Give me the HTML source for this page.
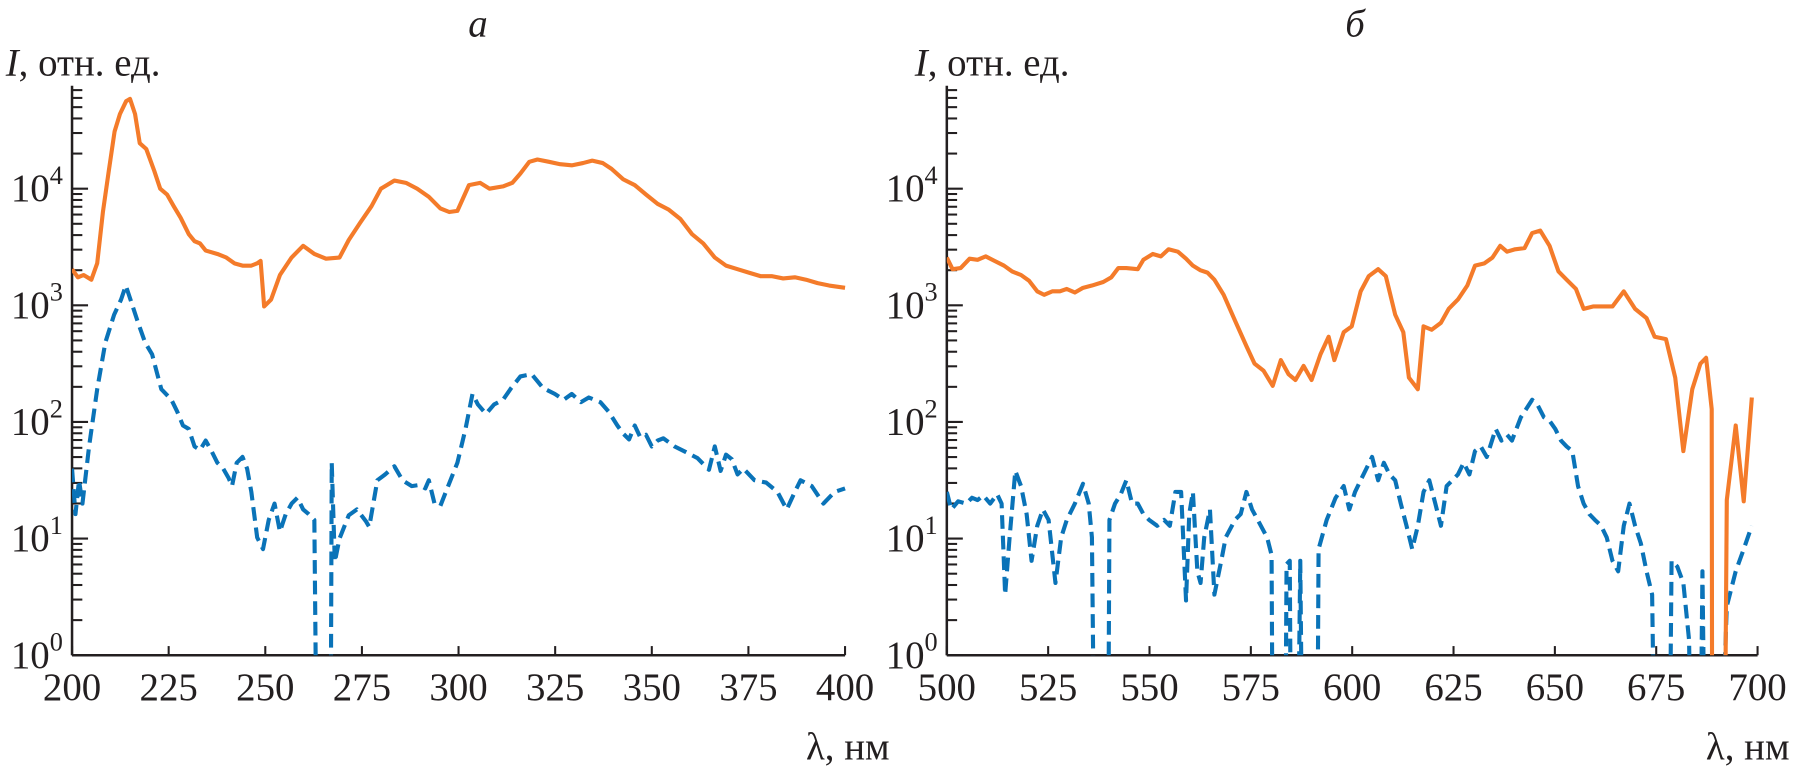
<!DOCTYPE html>
<html><head><meta charset="utf-8">
<style>
html,body{margin:0;padding:0;background:#fff;}
svg, svg text{font-family:"Liberation Serif","DejaVu Serif",serif;}
svg{display:block;}
</style></head>
<body>
<svg id="chart" width="1793" height="771" viewBox="0 0 1793 771" xmlns="http://www.w3.org/2000/svg"><g id="root" transform="scale(1.1435)" font-family="Liberation Serif, DejaVu Serif, serif"></g></svg>
<script>
// ---- Data (λ in nm, intensity given as log10(I); -1 means zero / below axis) ----
const lamA_orange = [200,201.5,203,205,206.5,208,209.5,211,212.4,214,215,216.3,217.5,219.2,221.3,222.8,224.6,226.3,228.1,230.2,231.7,233.1,234.6,237.6,239.9,242,244.1,246.4,247.9,248.8,249.7,251.5,253.8,256.8,259.8,262.7,265.7,269.2,271.6,274.6,277.5,279.9,283.4,286.4,289.3,292.3,295.3,297.6,299.7,302.7,305.6,308,311.5,313.9,316,318.3,320.4,323.4,326.3,329.3,332.2,334.6,337.3,339.6,342.6,345.6,348.5,351.5,354.4,357.4,360.4,363.3,366.3,369.2,372.2,375.1,378.1,381,384,387,389.9,392.9,395.9,400];
const logA_orange = [3.31,3.24,3.26,3.22,3.36,3.80,4.15,4.49,4.64,4.75,4.77,4.64,4.39,4.34,4.15,4.0,3.95,3.85,3.75,3.61,3.55,3.53,3.47,3.44,3.41,3.36,3.34,3.34,3.36,3.38,2.99,3.05,3.26,3.41,3.51,3.44,3.40,3.41,3.56,3.71,3.85,4.0,4.07,4.05,4.0,3.93,3.83,3.80,3.81,4.03,4.05,4.0,4.02,4.05,4.13,4.23,4.25,4.23,4.21,4.20,4.22,4.24,4.22,4.17,4.08,4.03,3.95,3.87,3.82,3.74,3.61,3.53,3.41,3.34,3.31,3.28,3.25,3.25,3.23,3.24,3.22,3.19,3.17,3.15];
const lamA_blue = [200,200.9,201.8,202.7,204.4,206.5,208.6,210.9,212.7,213.9,215.4,216.9,218.9,220.7,221.9,223.1,224.3,225.7,227.2,228.7,230.2,231.7,233.1,234.6,236.1,237.6,239.1,240.5,241.4,242.6,244.1,245.3,246.4,247.9,249.4,250.9,252.4,253.8,255.3,256.8,258.3,259.8,261.2,262.7,263.3,266.9,267.2,268.0,269.2,271.6,273.7,276,276.9,279,281,283.4,285.5,287.9,289.9,291.4,292.3,293.8,295.3,297.3,299.7,301.8,303.6,305,307.1,309.2,311.5,313.6,316,318.9,321.9,324.9,327.2,329.3,331.7,333.7,336.7,338.8,341.1,342.6,344.1,345.6,347,348.5,350,351.5,353,355.9,358.9,361.8,364.8,366.3,367.8,369.2,370.7,372.2,373.7,376.6,379.6,382.5,384.9,387,388.5,391.4,394.4,397.3,400];
const logA_blue = [1.60,1.21,1.50,1.30,1.79,2.28,2.68,2.92,3.05,3.17,3.02,2.87,2.68,2.58,2.43,2.28,2.24,2.19,2.09,1.97,1.94,1.79,1.76,1.84,1.75,1.65,1.60,1.52,1.45,1.65,1.70,1.60,1.40,1.01,0.91,1.16,1.30,1.06,1.21,1.30,1.35,1.25,1.21,1.16,-1,-1,1.65,0.80,1.0,1.20,1.25,1.15,1.10,1.50,1.55,1.62,1.50,1.45,1.46,1.43,1.50,1.30,1.28,1.45,1.65,1.94,2.24,2.15,2.07,2.15,2.19,2.29,2.39,2.41,2.29,2.24,2.19,2.24,2.17,2.21,2.17,2.09,1.97,1.90,1.85,1.97,1.87,1.89,1.79,1.84,1.86,1.79,1.74,1.69,1.59,1.79,1.58,1.72,1.68,1.55,1.60,1.50,1.48,1.40,1.25,1.40,1.50,1.45,1.30,1.40,1.43];
const lamB_orange = [500,501.4,503.4,505.6,507.6,509.6,511.8,514.1,516.1,518.3,520.3,522.3,524,526,527.9,529.6,531.6,533.6,535.8,538.6,540.6,542.3,544.3,547.1,548.5,550.8,552.8,554.7,557,559,560.7,562.6,564.3,566,568.3,571.1,573.9,575.9,578.1,580.4,582.4,584.3,586,588,590,592.2,594.2,595.6,597.9,599.9,602.1,604.1,606.4,608.3,610.6,612.6,614,616.2,617.6,619.6,621.9,623.8,626.1,628.4,630.3,632.6,634.6,636.5,638.2,640.2,642.5,644.4,646.4,648.7,650.9,652.9,655.2,657.1,659.4,661.4,664.2,667,669.8,672.6,674.6,677.4,679.7,681.7,683.9,685.9,687.3,688.7,688.8,691.9,692.4,694.6,696.6,698.6];
const logB_orange = [3.41,3.31,3.32,3.40,3.39,3.42,3.38,3.34,3.29,3.26,3.21,3.12,3.09,3.12,3.12,3.14,3.11,3.15,3.17,3.20,3.24,3.32,3.32,3.31,3.39,3.44,3.42,3.48,3.46,3.40,3.34,3.30,3.28,3.22,3.09,2.87,2.65,2.50,2.44,2.31,2.53,2.41,2.36,2.48,2.36,2.58,2.73,2.53,2.77,2.82,3.12,3.25,3.31,3.25,2.92,2.77,2.38,2.28,2.82,2.79,2.85,2.97,3.05,3.17,3.34,3.36,3.41,3.51,3.46,3.48,3.49,3.62,3.64,3.51,3.29,3.22,3.14,2.97,2.99,2.99,2.99,3.12,2.97,2.89,2.73,2.71,2.38,1.75,2.28,2.50,2.55,2.11,-1,-1,1.33,1.97,1.32,2.21];
const lamB_blue = [500,501.1,502.8,504.8,506.2,507.6,509,510.7,512.4,513.5,514.4,515.5,516.9,518.3,519.7,520.9,522.3,523.7,525.1,526.8,528.2,529.6,531.6,533.6,535,535.8,536.4,539.8,540.1,541.5,542.9,544.3,545.7,547.1,548.5,549.9,551.9,553.6,555,556.4,557.8,559,559.8,560.7,561.8,562.6,563.5,564.9,566,567.7,568.8,571.1,572.5,573.9,575.3,576.7,579,580.1,580.4,583.5,583.8,584.6,584.9,586.6,587.2,587.7,591.4,591.7,593.7,595.9,597.9,599.3,600.7,602.1,603.5,604.9,606.4,607.8,609.2,610.6,612,613.4,614.8,616.2,617.6,619,620.5,621.9,623.3,624.7,626.1,627.5,628.9,630.3,631.7,633.2,635.4,636.8,638.2,639.4,641.6,644.4,645.8,647.3,648.7,650.1,651.5,652.9,654.3,655.7,657.1,658.5,659.9,661.4,662.8,664.2,665.6,667,668.4,669.8,671.2,672.6,674,674.6,678.3,678.8,680.2,681.7,683.1,683.6,685.9,686.4,687,691,692.4,694.6,696.6,698.6];
const logB_blue = [1.40,1.25,1.32,1.30,1.35,1.33,1.37,1.30,1.38,1.30,0.52,1.01,1.58,1.45,1.21,0.81,1.11,1.25,1.16,0.62,1.01,1.16,1.30,1.47,1.30,1.01,-1,-1,1.16,1.30,1.38,1.50,1.30,1.30,1.21,1.16,1.11,1.16,1.11,1.40,1.40,0.47,1.21,1.40,0.72,0.62,1.01,1.25,0.52,0.81,1.01,1.16,1.21,1.40,1.25,1.16,1.01,0.86,-1,-1,0.78,0.81,-1,-1,0.81,-1,-1,0.91,1.16,1.35,1.45,1.25,1.40,1.50,1.60,1.70,1.50,1.65,1.55,1.50,1.30,1.11,0.91,1.11,1.40,1.50,1.30,1.11,1.45,1.50,1.55,1.65,1.55,1.75,1.79,1.70,1.94,1.84,1.89,1.84,2.04,2.19,2.14,2.04,2.01,1.94,1.84,1.79,1.75,1.45,1.30,1.21,1.16,1.11,1.01,0.81,0.72,1.11,1.30,1.11,0.96,0.72,0.52,-1,-1,0.81,0.76,0.62,0.13,-1,-1,0.72,-1,-1,0.42,0.72,0.91,1.11];
const xTicksA = [200,225,250,275,300,325,350,375,400];
const xTicksB = [500,525,550,575,600,625,650,675,700];
const yDecades = [0,1,2,3,4];

const NS = "http://www.w3.org/2000/svg";
const svg = document.getElementById('root');
function mk(tag, attrs, parent){ const e=document.createElementNS(NS,tag); for(const k in attrs) e.setAttribute(k,attrs[k]); (parent||svg).appendChild(e); return e; }

const Y0 = 573, DEC = 102, YTOP = 75;
function yOf(lg){ return Y0 - lg*DEC; }

function panel(id, x0, x1, lmin, lmax, xt, seriesO, seriesB){
  const xOf = l => x0 + (l-lmin)/(lmax-lmin)*(x1-x0);
  const g = mk('g',{});
  
  
  const clip = mk('clipPath',{id:'clip-'+id}, g);
  mk('rect',{x:x0,y:YTOP,width:x1-x0+2,height:Y0-YTOP},clip);
  const ya = mk('line',{x1:x0,y1:YTOP,x2:x0,y2:Y0,stroke:'#231f20','stroke-width':2.2},g);
  
  
  const xa = mk('line',{x1:x0,y1:Y0,x2:x1,y2:Y0,stroke:'#231f20','stroke-width':2.2},g);
  
  
  for(let d=0; d<5; d++){
    for(let m=1;m<10;m++){
      const lg = d+Math.log10(m);
      const y = yOf(lg);
      if (y < YTOP-1) continue;
      mk('line',{x1:x0,y1:y,x2:x0+(m===1?14:9),y2:y,stroke:'#231f20','stroke-width':1.8},g);
    }
  }
  yDecades.forEach(d=>{
    const t = mk('text',{x:x0-8,y:yOf(d)+11,'font-size':34,'text-anchor':'end',fill:'#231f20','font-family':'Liberation Serif, serif'},g);
    
    
    t.textContent='10';
    const s = mk('tspan',{dy:-15,'font-size':23},t);
    s.textContent=String(d);
  });
  xt.forEach(v=>{
    const x = xOf(v);
    mk('line',{x1:x,y1:Y0,x2:x,y2:Y0-8,stroke:'#231f20','stroke-width':1.8},g);
    const t = mk('text',{x:x,y:612,'font-size':34,'text-anchor':'middle',fill:'#231f20','font-family':'Liberation Serif, serif'},g);
    
    
    t.textContent=String(v);
  });
  function line(lams, logs, color, dash, name){
    const pts = lams.map((l,i)=>xOf(l).toFixed(1)+','+yOf(logs[i]).toFixed(1)).join(' ');
    const p = mk('polyline',{points:pts,fill:'none',stroke:color,'stroke-width':3.6,'stroke-linejoin':'round','clip-path':'url(#clip-'+id+')'},g);
    if(dash) p.setAttribute('stroke-dasharray',dash);
    
    
  }
  line(seriesB[0], seriesB[1], '#0a73b8', '12,6', 'blue-dashed-spectrum');
  line(seriesO[0], seriesO[1], '#f47b2a', null, 'orange-solid-spectrum');
}
panel('panel-a', 63, 739, 200, 400, xTicksA, [lamA_orange,logA_orange], [lamA_blue,logA_blue]);
panel('panel-b', 828, 1537, 500, 700, xTicksB, [lamB_orange,logB_orange], [lamB_blue,logB_blue]);
</script>
<script>
(function(){
  const NS="http://www.w3.org/2000/svg", svg=document.getElementById('root');
  function txt(x,y,html,anchor,name){
    const t=document.createElementNS(NS,'text');
    t.setAttribute('x',x); t.setAttribute('y',y); t.setAttribute('font-size',34);
    t.setAttribute('font-family','Liberation Serif, serif');
    t.setAttribute('fill','#231f20'); t.setAttribute('text-anchor',anchor||'start');
    t.innerHTML=html;
    
    
    svg.appendChild(t);
  }
  txt(418,32,'<tspan font-style="italic">а</tspan>','middle','panel-a-title');
  txt(1185,32,'<tspan font-style="italic">б</tspan>','middle','panel-b-title');
  txt(5,66,'<tspan font-style="italic">I</tspan>, отн. ед.','start','y-axis-title-a');
  txt(800,66,'<tspan font-style="italic">I</tspan>, отн. ед.','start','y-axis-title-b');
  txt(778,664,'λ, нм','end','x-axis-title-a');
  txt(1565,664,'λ, нм','end','x-axis-title-b');
})();
</script>
</body></html>
